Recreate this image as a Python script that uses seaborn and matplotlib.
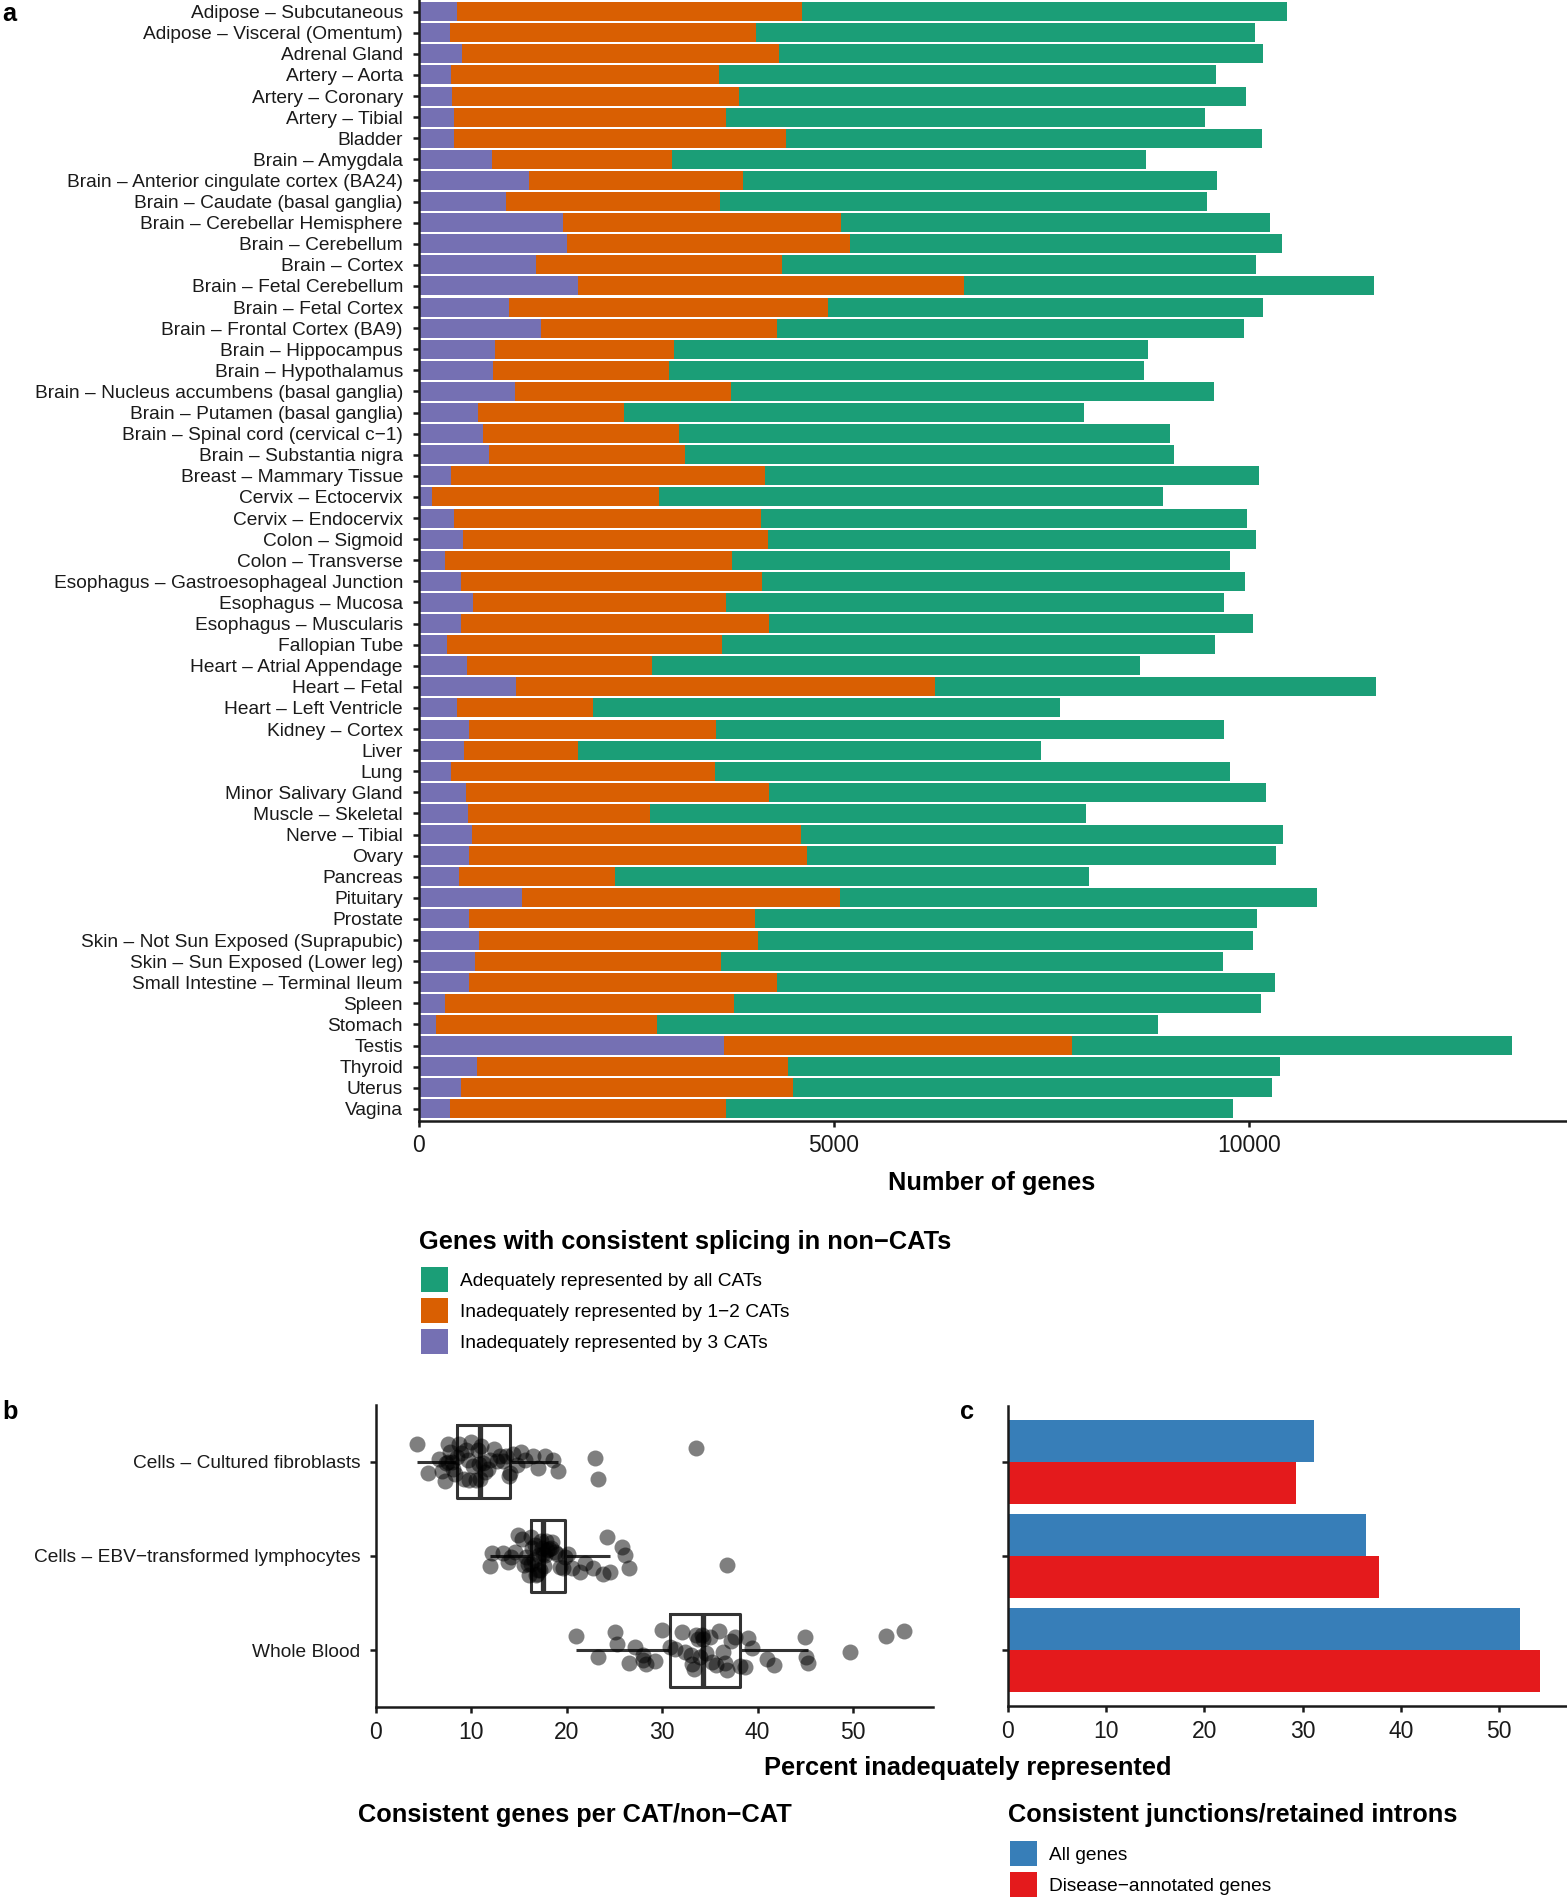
import numpy as np
import pandas as pd
import matplotlib
matplotlib.use("Agg")
import matplotlib.pyplot as plt
import seaborn as sns
from matplotlib.patches import Patch

# ---------------- data ----------------
tissues = [
    "Adipose – Subcutaneous", "Adipose – Visceral (Omentum)", "Adrenal Gland",
    "Artery – Aorta", "Artery – Coronary", "Artery – Tibial", "Bladder",
    "Brain – Amygdala", "Brain – Anterior cingulate cortex (BA24)",
    "Brain – Caudate (basal ganglia)", "Brain – Cerebellar Hemisphere",
    "Brain – Cerebellum", "Brain – Cortex", "Brain – Fetal Cerebellum",
    "Brain – Fetal Cortex", "Brain – Frontal Cortex (BA9)", "Brain – Hippocampus",
    "Brain – Hypothalamus", "Brain – Nucleus accumbens (basal ganglia)",
    "Brain – Putamen (basal ganglia)", "Brain – Spinal cord (cervical c−1)",
    "Brain – Substantia nigra", "Breast – Mammary Tissue", "Cervix – Ectocervix",
    "Cervix – Endocervix", "Colon – Sigmoid", "Colon – Transverse",
    "Esophagus – Gastroesophageal Junction", "Esophagus – Mucosa",
    "Esophagus – Muscularis", "Fallopian Tube", "Heart – Atrial Appendage",
    "Heart – Fetal", "Heart – Left Ventricle", "Kidney – Cortex", "Liver", "Lung",
    "Minor Salivary Gland", "Muscle – Skeletal", "Nerve – Tibial", "Ovary",
    "Pancreas", "Pituitary", "Prostate", "Skin – Not Sun Exposed (Suprapubic)",
    "Skin – Sun Exposed (Lower leg)", "Small Intestine – Terminal Ileum", "Spleen",
    "Stomach", "Testis", "Thyroid", "Uterus", "Vagina",
]
# Inadequately represented by 3 CATs
n_3cats = [466, 376, 520, 394, 403, 430, 421, 887, 1326, 1057, 1738, 1792, 1416,
           1917, 1084, 1478, 923, 896, 1165, 717, 780, 842, 394, 161, 421, 538,
           314, 511, 654, 511, 340, 582, 1174, 457, 609, 547, 394, 573, 600, 645,
           609, 484, 1245, 609, 726, 681, 609, 323, 206, 3683, 708, 511, 376]
# Inadequately represented by 1-2 CATs
n_12cats = [4148, 3683, 3826, 3226, 3450, 3270, 4005, 2159, 2581, 2572, 3351, 3405,
            2956, 4651, 3844, 2841, 2150, 2124, 2598, 1756, 2356, 2366, 3772, 2733,
            3701, 3673, 3458, 3629, 3046, 3709, 3316, 2231, 5044, 1649, 2975, 1370,
            3172, 3647, 2187, 3960, 4068, 1881, 3835, 3441, 3360, 2957, 3710, 3476,
            2670, 4184, 3736, 3996, 3324]
# Adequately represented by all CATs
n_allcats = [5842, 6012, 5824, 5985, 6111, 5770, 5735, 5708, 5707, 5860, 5161, 5206,
             5708, 4937, 5242, 5627, 5717, 5716, 5815, 5537, 5914, 5886, 5950, 6075,
             5850, 5869, 6003, 5815, 5995, 5824, 5940, 5869, 5314, 5618, 6120, 5583,
             6209, 5985, 5250, 5807, 5645, 5708, 5735, 6048, 5967, 6048, 5994, 6344,
             6030, 5295, 5932, 5770, 6111]

b_groups = ["Cells – Cultured fibroblasts", "Cells – EBV−transformed lymphocytes",
            "Whole Blood"]
fibro_pct = [4.3, 5.5, 6.6, 6.9, 7.2, 7.3, 7.5, 7.6, 7.8, 8.0, 8.1, 8.3, 8.5,
             8.7, 8.9, 9.2, 9.4, 9.6, 9.8, 10.0, 10.2, 10.5, 10.7, 10.8, 10.9,
             11.0, 11.2, 11.4, 11.7, 12.0, 12.4, 12.7, 13.0, 13.3, 13.6, 13.9, 14.1,
             14.4, 14.8, 15.2, 15.6, 16.5, 17.0, 17.7, 18.6, 19.1, 23.0, 23.3, 33.5]
ebv_pct = [12.0, 12.2, 13.3, 13.8, 14.2, 14.6, 14.9, 15.3, 15.5, 15.7, 15.9, 16.0,
           16.2, 16.3, 16.4, 16.6, 16.7, 16.8, 16.9, 17.0, 17.1, 17.2, 17.3, 17.4,
           17.5, 17.6, 17.7, 17.8, 17.9, 18.1, 18.3, 18.5, 18.8, 19.0, 19.3, 19.6,
           19.8, 20.1, 20.6, 21.4, 21.9, 22.8, 23.8, 24.2, 24.5, 25.8, 26.1, 26.5, 36.8]
blood_pct = [21.0, 23.3, 25.1, 25.3, 26.5, 27.2, 28.0, 28.0, 28.3, 29.3, 30.0, 30.8,
             31.4, 32.1, 32.4, 33.0, 33.1, 33.3, 33.6, 33.8, 34.0, 34.2, 34.3,
             34.6, 35.0, 35.2, 35.6, 36.0, 36.4, 36.6, 36.8, 37.2, 37.6, 38.2,
             38.7, 39.0, 39.4, 41.0, 41.7, 45.0, 45.1, 45.3, 49.7, 53.5, 55.4]

c_sets = ["All genes", "Disease−annotated genes"]
c_all_genes = [31.1, 36.4, 52.1]
c_disease_genes = [29.3, 37.8, 54.2]

# ---------------- style ----------------
sns.set_theme(style="ticks")
plt.rcParams['font.family'] = ['Liberation Sans', 'DejaVu Sans']
INK = "#1a1a1a"
plt.rcParams.update({
    "axes.edgecolor": INK, "axes.linewidth": 1.8,
    "xtick.color": INK, "ytick.color": INK,
    "xtick.major.width": 1.8, "ytick.major.width": 1.8,
    "xtick.major.size": 4.3, "ytick.major.size": 4.3,
    "xtick.major.pad": 5.5, "ytick.major.pad": 7.0,
    "text.color": "black",
})

GREEN, ORANGE, PURPLE = "#1B9E77", "#D95F02", "#7570B3"
BLUE, RED = "#377EB8", "#E41A1C"
TICK_FS = 13.8
XT_FS = 16.5
TITLE_FS = 18.3

W, H = 1567, 1898
fig = plt.figure(figsize=(W / 100, H / 100), dpi=100)


def box(l, t, r, b):
    return [l / W, 1 - b / H, (r - l) / W, (b - t) / H]


def ftext(x, y, s, **kw):
    fig.text(x / W, 1 - y / H, s, **kw)


LEG_KW = dict(loc="upper left", frameon=False, borderpad=0, borderaxespad=0,
              fontsize=TICK_FS, handlelength=1.40, handleheight=1.64,
              labelspacing=0.30, handletextpad=0.66)

# ---------------- panel a ----------------
dfa = pd.DataFrame({"tissue": tissues, "p3": n_3cats, "p12": n_12cats, "pall": n_allcats})
dfa["cum12"] = dfa["p3"] + dfa["p12"]
dfa["total"] = dfa["cum12"] + dfa["pall"]

ax_a = fig.add_axes(box(418.6, 0, 1567, 1120.5))
for col, colr in [("total", GREEN), ("cum12", ORANGE), ("p3", PURPLE)]:
    sns.barplot(data=dfa, y="tissue", x=col, order=tissues, color=colr, width=0.9,
                saturation=1, errorbar=None, linewidth=0, orient="h", ax=ax_a)
ax_a.set_ylim(52.55, -0.55)
ax_a.set_xlim(0, 13830)
ax_a.set_xticks([0, 5000, 10000])
ax_a.set_xlabel("")
ax_a.set_ylabel("")
ax_a.tick_params(axis="y", labelsize=TICK_FS)
ax_a.tick_params(axis="x", labelsize=XT_FS)
sns.despine(ax=ax_a)
ftext(992, 1183, "Number of genes", ha="center", va="center",
      fontsize=TITLE_FS, fontweight="bold")
ftext(2, 2, "a", ha="left", va="top", fontsize=TITLE_FS, fontweight="bold")

handles = [Patch(facecolor=GREEN, edgecolor="none"),
           Patch(facecolor=ORANGE, edgecolor="none"),
           Patch(facecolor=PURPLE, edgecolor="none")]
labels = ["Adequately represented by all CATs", "Inadequately represented by 1−2 CATs",
          "Inadequately represented by 3 CATs"]
ftext(418.6, 1242, "Genes with consistent splicing in non−CATs", ha="left",
      va="center", fontsize=TITLE_FS, fontweight="bold")
fig.legend(handles, labels, bbox_to_anchor=(421 / W, 1 - 1267 / H), **LEG_KW)

# ---------------- panel b ----------------
dfb = pd.DataFrame({
    "group": [b_groups[0]] * len(fibro_pct) + [b_groups[1]] * len(ebv_pct)
             + [b_groups[2]] * len(blood_pct),
    "pct": fibro_pct + ebv_pct + blood_pct,
})
ax_b = fig.add_axes(box(376, 1405, 933, 1707))
sns.boxplot(data=dfb, x="pct", y="group", order=b_groups, fill=False, color="#333333",
            linecolor="#333333", width=0.77, showfliers=False, showcaps=False,
            linewidth=2.2, medianprops={"linewidth": 3.8}, whis=1.5, ax=ax_b)
np.random.seed(7)
sns.stripplot(data=dfb, x="pct", y="group", order=b_groups, color="black", alpha=0.5,
              size=11.5, jitter=0.22, linewidth=0, ax=ax_b)
ax_b.set_xlim(0, 58.4)
ax_b.set_ylim(2.6, -0.6)
ax_b.set_xticks([0, 10, 20, 30, 40, 50])
ax_b.set_xlabel("")
ax_b.set_ylabel("")
ax_b.tick_params(axis="y", labelsize=TICK_FS)
ax_b.tick_params(axis="x", labelsize=XT_FS)
sns.despine(ax=ax_b)
ftext(2, 1400, "b", ha="left", va="top", fontsize=TITLE_FS, fontweight="bold")
ftext(358, 1815, "Consistent genes per CAT/non−CAT", ha="left", va="center",
      fontsize=TITLE_FS, fontweight="bold")

# ---------------- panel c ----------------
dfc = pd.DataFrame({
    "group": b_groups * 2,
    "set": [c_sets[0]] * 3 + [c_sets[1]] * 3,
    "pct": c_all_genes + c_disease_genes,
})
ax_c = fig.add_axes(box(1008, 1406, 1567, 1706))
sns.barplot(data=dfc, x="pct", y="group", hue="set", order=b_groups, hue_order=c_sets,
            palette=[BLUE, RED], width=0.9, saturation=1, errorbar=None, linewidth=0,
            legend=False, ax=ax_c)
ax_c.set_xlim(0, 56.9)
ax_c.set_ylim(2.6, -0.6)
ax_c.set_xticks([0, 10, 20, 30, 40, 50])
ax_c.set_yticklabels([])
ax_c.set_xlabel("")
ax_c.set_ylabel("")
ax_c.tick_params(axis="x", labelsize=XT_FS)
sns.despine(ax=ax_c)
ftext(960, 1400, "c", ha="left", va="top", fontsize=TITLE_FS, fontweight="bold")

ftext(968, 1768, "Percent inadequately represented", ha="center", va="center",
      fontsize=TITLE_FS, fontweight="bold")

handles_c = [Patch(facecolor=BLUE, edgecolor="none"), Patch(facecolor=RED, edgecolor="none")]
ftext(1008, 1815, "Consistent junctions/retained introns", ha="left", va="center",
      fontsize=TITLE_FS, fontweight="bold")
fig.legend(handles_c, c_sets, bbox_to_anchor=(1010 / W, 1 - 1841 / H), **LEG_KW)

fig.savefig("out.png", dpi=100)
